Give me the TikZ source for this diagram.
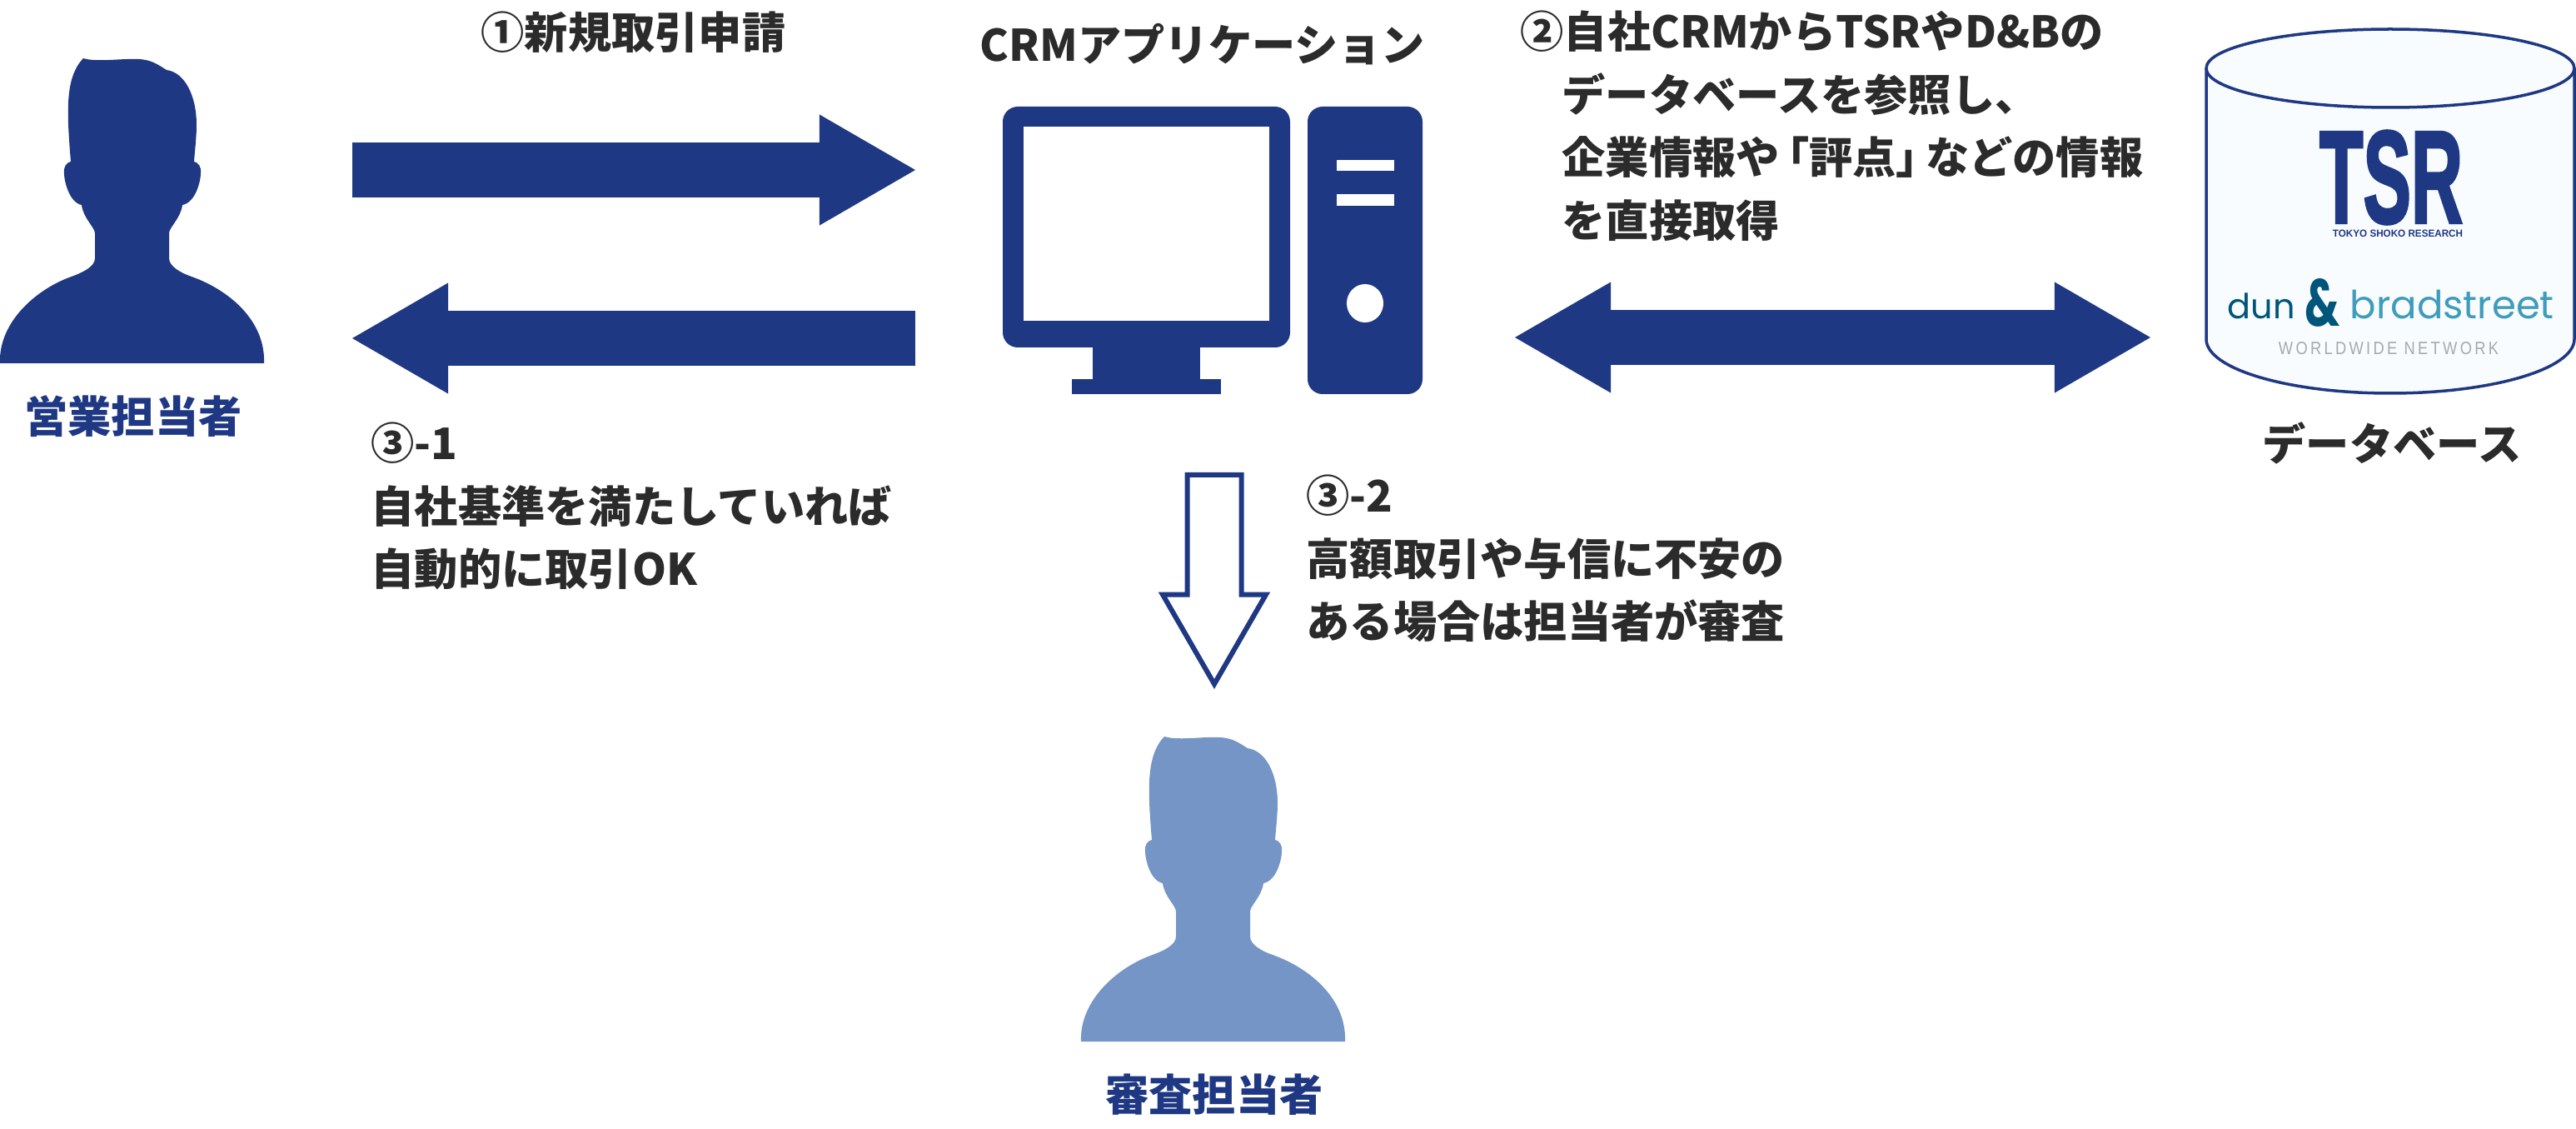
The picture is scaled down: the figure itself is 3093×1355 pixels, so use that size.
\documentclass[tikz,border=0pt]{standalone}
\usepackage{graphicx}
\usepackage{fontspec}
\setmainfont{Noto Sans CJK JP}
\newfontfamily\logofont{Liberation Sans}
\newfontfamily\heavyfont{Liberation Sans}[BoldFeatures={FakeBold=2.5}]
\newfontfamily\dnbfont{Poppins}
\usetikzlibrary{arrows.meta, shapes.arrows}
\definecolor{deepblue}{HTML}{1F3883}
\definecolor{softblue}{HTML}{7495C5}
\definecolor{inktext}{HTML}{2B2B2B}
\definecolor{dnbdark}{HTML}{00567A}
\definecolor{dnblight}{HTML}{3F9CBB}
\definecolor{dnbgrey}{HTML}{A7A9AC}
\definecolor{dbfill}{HTML}{F9FCFF}
\tikzset{
  msg/.style={anchor=north west, inner sep=0pt, align=left, text=inktext,
    font=\bfseries\fontsize{14.85pt}{21.55pt}\selectfont},
  rolelabel/.style={inner sep=0pt, text=deepblue, font=\bfseries\fontsize{14.85pt}{18pt}\selectfont},
  blockarrow/.style={draw=deepblue, line width=0.66cm},
  bighead/.style={-{Triangle[length=1.15cm, width=1.33cm, line width=0pt]}},
  bothheads/.style={{Triangle[length=1.15cm, width=1.33cm, line width=0pt]}-{Triangle[length=1.15cm, width=1.33cm, line width=0pt]}},
  person/.pic={
    \fill[pic actions] (0,396) .. controls (-2,347) and (43,308) .. (83,293)
      .. controls (100,287) and (114,280) .. (114,270) -- (114,240)
      .. controls (114,233) and (100,222) .. (98,206)
      .. controls (83,203) and (77,177) .. (77,168)
      .. controls (76,160) and (80,155) .. (85,154)
      .. controls (80,93) and (78,53) .. (100,30)
      .. controls (117,35) and (143,30) .. (167,31)
      .. controls (183,32) and (190,38) .. (200,44)
      .. controls (222,47) and (236,75) .. (236,110)
      .. controls (236,125) and (234,140) .. (233,154)
      .. controls (238,155) and (242,160) .. (241,168)
      .. controls (241,177) and (235,203) .. (219,206)
      .. controls (217,222) and (203,233) .. (203,240) -- (203,270)
      .. controls (203,280) and (218,288) .. (230,292)
      .. controls (275,308) and (319,345) .. (317,396) -- cycle;
  }
}

\begin{document}
\begin{tikzpicture}[x=0.01cm, y=-0.01cm]
    \useasboundingbox (0,0) rectangle (3093,1355);

    % People
    \pic[fill=deepblue] at (0,40) {person};
    \pic[fill=softblue] at (1298,854) {person};
    \node[rolelabel] (sales) at (160,500) {営業担当者};
    \node[rolelabel] (review) at (1458,1314) {審査担当者};

    % Computer
    \fill[deepblue, rounded corners=0.18cm] (1204,128) rectangle (1549,417);
    \fill[deepblue] (1312,410) rectangle (1441,473);
    \fill[deepblue] (1287,455) rectangle (1466,473);
    \fill[white] (1229,152) rectangle (1524,385);
    \fill[deepblue, rounded corners=0.18cm] (1570,128) rectangle (1708,473);
    \fill[white] (1605,192) rectangle (1674,205);
    \fill[white] (1605,233) rectangle (1674,247);
    \fill[white] (1639,364) ellipse [x radius=22, y radius=23];
    \node[msg, anchor=center] (appl) at (1444,53) {CRMアプリケーション};

    % Database
    \draw[deepblue, fill=dbfill, line width=0.035cm] (2649,82) -- (2649,407)
      arc[start angle=180, end angle=0, x radius=221, y radius=65] -- (3091,82);
    \draw[deepblue, fill=dbfill, line width=0.035cm] (2870,82) ellipse [x radius=221, y radius=47];
    \node[inner sep=0pt, text=deepblue] (tsr) at (2871,213) {\resizebox{1.72cm}{1.10cm}{\heavyfont\bfseries TSR}};
    \node[inner sep=0pt, text=deepblue] (tsrname) at (2879,280) {\resizebox{1.56cm}{0.085cm}{\logofont\bfseries TOKYO SHOKO RESEARCH}};
    \node[inner sep=0pt, anchor=base west, text=dnbdark] (dun) at (2674,383) {\resizebox{0.81cm}{!}{\dnbfont dun}};
    \node[inner sep=0pt, anchor=base west, text=dnbdark] (amp) at (2767,392) {\resizebox{0.42cm}{0.57cm}{\dnbfont\bfseries\&}};
    \node[inner sep=0pt, anchor=base west, text=dnblight] (brad) at (2821,383) {\resizebox{2.45cm}{!}{\dnbfont bradstreet}};
    \node[inner sep=0pt, text=dnbgrey] (wwn) at (2868,418) {\resizebox{2.64cm}{0.15cm}{\logofont\addfontfeature{LetterSpace=18}WORLDWIDE NETWORK}};
    \node[msg, anchor=center] (dbase) at (2872,532) {データベース};

    % Arrows
    \coordinate (a1) at (423,204);
    \coordinate (b1) at (1099,204);
    \coordinate (a2) at (1099,406);
    \coordinate (b2) at (423,406);
    \coordinate (a3) at (1819,405);
    \coordinate (b3) at (2582,405);
    \draw[blockarrow, bighead] (a1) -- (b1);
    \draw[blockarrow, bighead] (a2) -- (b2);
    \draw[blockarrow, bothheads] (a3) -- (b3);
    \node[single arrow, draw=deepblue, fill=white, line width=0.06cm, shape border rotate=270,
      single arrow tip angle=60, single arrow head extend=0.2cm, inner sep=0.19cm,
      minimum height=2.51cm, minimum width=1.24cm, anchor=tip] (down) at (1458,827) {};

    % Messages
    \node[msg] (m1) at (577,13) {①新規取引申請};
    \node[msg] (m2) at (1825,12) {②自社CRMからTSRやD\&Bの\\
      \hspace*{0.5cm}データベースを参照し、\\
      \hspace*{0.5cm}企業情報や\kern-0.32em「評点」\kern-0.32emなどの情報\\
      \hspace*{0.5cm}を直接取得};
    \node[msg] (m3) at (445,506) {③-1\\自社基準を満たしていれば\\自動的に取引OK};
    \node[msg] (m4) at (1568,569) {③-2\\高額取引や与信に不安の\\ある場合は担当者が審査};
\end{tikzpicture}
\end{document}
